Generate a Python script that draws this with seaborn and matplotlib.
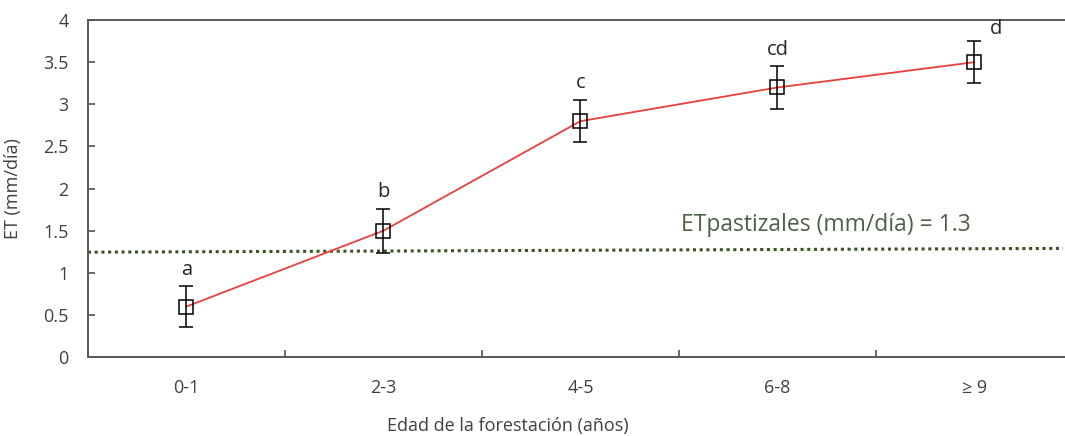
import matplotlib
matplotlib.use("Agg")
import matplotlib.pyplot as plt
import seaborn as sns
import pandas as pd

# data
edades = ['0-1', '2-3', '4-5', '6-8', '≥ 9']
et = [0.60, 1.50, 2.80, 3.20, 3.50]
err = [0.24, 0.26, 0.25, 0.25, 0.25]
letras = ['a', 'b', 'c', 'cd', 'd']
et_pastizales = 1.3
# dotted reference line as drawn (slightly tilted in the original)
linea_x = [-0.5, 4.45]
linea_y = [1.245, 1.29]


def main():
    sns.set_style("white")
    plt.rcParams['font.family'] = ['Open Sans', 'DejaVu Sans']

    fig = plt.figure(figsize=(10.65, 4.36), dpi=100)
    ax = fig.add_axes([0.0826, 0.181, 0.9174, 0.773])

    pos = list(range(len(edades)))
    df = pd.DataFrame({'pos': pos, 'et': et})

    ax.plot(linea_x, linea_y, color='#3b5323', lw=2.2, linestyle=(0, (1, 1.2)), zorder=1)
    sns.lineplot(data=df, x='pos', y='et', ax=ax, color='#e8403f', lw=1.3,
                 marker='s', markersize=10, markerfacecolor='none',
                 markeredgecolor='black', markeredgewidth=1.1, zorder=3)
    ax.errorbar(pos, et, yerr=err, fmt='none', ecolor='black', elinewidth=1.1,
                capsize=5, capthick=1.1, zorder=4)

    for i, (v, e, l) in enumerate(zip(et, err, letras)):
        if i == len(edades) - 1:
            ax.text(i + 0.08, v + e + 0.03, l, fontsize=14.5, color='#262626',
                    ha='left', va='bottom')
        else:
            ax.text(i, v + e + 0.08, l, fontsize=14.5, color='#262626',
                    ha='center', va='bottom')

    ax.text(2.51, 1.43, 'ETpastizales (mm/día) = %.1f' % et_pastizales,
            fontsize=16.5, color='#4e6146', ha='left', va='bottom')

    ax.set_xlim(-0.5, 4.46)
    ax.set_ylim(0, 4)
    ax.set_yticks([0, 0.5, 1, 1.5, 2, 2.5, 3, 3.5, 4])
    ax.set_yticklabels(['0', '0.5', '1', '1.5', '2', '2.5', '3', '3.5', '4'])
    ax.set_xticks([0.5, 1.5, 2.5, 3.5])
    ax.set_xticklabels([])
    ax.set_xticks(pos, minor=True)
    ax.set_xticklabels(edades, minor=True)
    ax.tick_params(axis='x', which='major', direction='in', length=5, width=1.1,
                   color='#404040', bottom=True)
    ax.tick_params(axis='x', which='minor', length=0, pad=16, labelsize=13,
                   labelcolor='#404040', bottom=True)
    ax.tick_params(axis='y', direction='in', length=5, width=1.1, color='#404040',
                   left=True, pad=14, labelsize=13, labelcolor='#404040')

    for s in ['left', 'bottom', 'top']:
        ax.spines[s].set_color('#595959')
        ax.spines[s].set_linewidth(1.4)
    ax.spines['right'].set_visible(False)

    ax.set_xlabel('Edad de la forestación (años)', fontsize=13, color='#404040')
    ax.xaxis.set_label_coords((508 - 88) / 977, -0.178)
    ax.set_ylabel('ET (mm/día)', fontsize=13, color='#404040')
    ax.yaxis.set_label_coords(-0.068, 0.5)

    fig.savefig('out.png', dpi=100)


if __name__ == '__main__':
    main()
